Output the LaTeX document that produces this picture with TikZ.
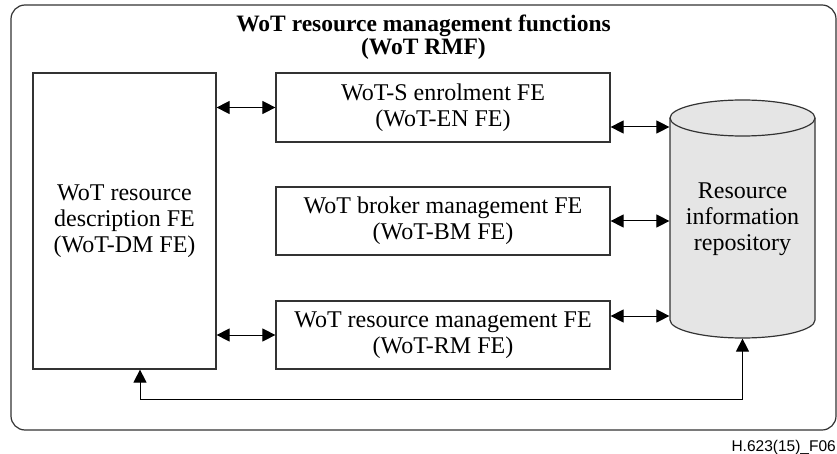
\documentclass[tikz,border=0pt]{standalone}
\usepackage{fontspec}
\setmainfont{Liberation Serif}
\newfontfamily\figfont{Liberation Sans}
\usetikzlibrary{arrows.meta,calc}

\begin{document}
\begin{tikzpicture}[x=1pt,y=1pt,yscale=-1,xscale=1,
    fe/.style={draw=black!80, line width=1.2pt, align=center, inner sep=0pt, font=\fontsize{24}{26}\selectfont},
    link/.style={line width=1pt, {Triangle[length=13pt,width=13pt]}-{Triangle[length=13pt,width=13pt]}}]
    \useasboundingbox (0,0) rectangle (837,454);

    %Shape: outer frame
    \draw [draw=black!80, line width=1.2pt, rounded corners=14pt] (11,5) rectangle (836,430);
    % Text Node: title
    \node (rmf) [align=center, inner sep=0pt, font=\bfseries\fontsize{23.5}{20.5}\selectfont] at (423.5,37) {WoT resource management functions\\(WoT RMF)};

    %Shape: Cylinder
    \fill [black!10] (670,118) -- (670,320) arc [start angle=180, end angle=0, x radius=72.5, y radius=18] -- (815,118) arc [start angle=0, end angle=-180, x radius=72.5, y radius=18] -- cycle;
    \draw [draw=black!80, line width=1.2pt] (670,118) -- (670,320) arc [start angle=180, end angle=0, x radius=72.5, y radius=18] -- (815,118);
    \draw [draw=black!80, line width=1.2pt] (742.5,118) ellipse [x radius=72.5, y radius=18];
    \node (repo) [fe, draw=none, minimum width=145pt, minimum height=238pt] at (742.5,219) {Resource\\information\\repository};

    % FE boxes
    \node (dm) [fe, minimum width=183pt, minimum height=296pt] at (124.5,221) {WoT resource\\description FE\\(WoT-DM FE)};
    \node (en) [fe, minimum width=334pt, minimum height=69pt] at (443,107.5) {WoT-S enrolment FE\\(WoT-EN FE)};
    \node (bm) [fe, minimum width=334pt, minimum height=68pt] at (443,221) {WoT broker management FE\\(WoT-BM FE)};
    \node (rm) [fe, minimum width=334pt, minimum height=68pt] at (443,335) {WoT resource management FE\\(WoT-RM FE)};

    % Connectors
    \draw [link] (en.west -| dm.east) -- (en.west);
    \draw [link] ($(en.east)+(0,19.5)$) coordinate (enr) -- (enr -| repo.west);
    \draw [link] (bm.east) -- (bm.east -| repo.west);
    \draw [link] (rm.west -| dm.east) -- (rm.west);
    \draw [link] ($(rm.east)+(0,-19)$) coordinate (rmr) -- (rmr -| repo.west);
    \draw [link] ($(dm.south)+(15.5,0)$) -- ++(0,30) -| (repo.south);

    % Text Node: figure tag
    \node (tag) [anchor=base east, inner sep=0pt, font=\figfont\fontsize{15.5}{18}\selectfont] at (836,451) {H.623(15)\_F06};
\end{tikzpicture}
\end{document}
